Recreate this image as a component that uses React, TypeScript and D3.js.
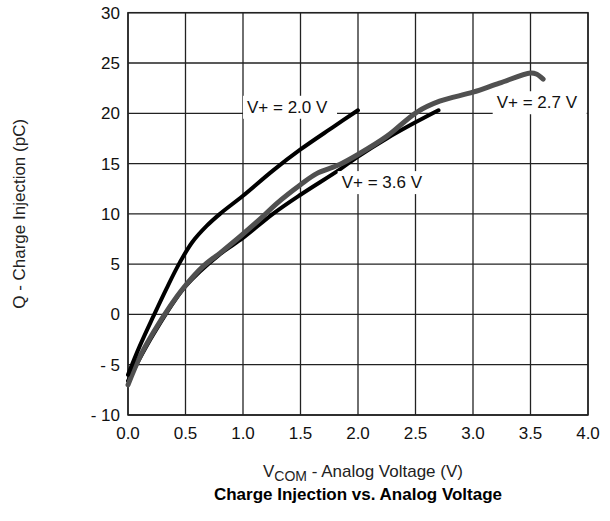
import React from 'react';
import * as d3 from 'd3';

// values
const xTicks = [0, 0.5, 1, 1.5, 2, 2.5, 3, 3.5, 4];
const yTicks = [-10, -5, 0, 5, 10, 15, 20, 25, 30];
const yTickLabels = ['- 10', '- 5', '0', '5', '10', '15', '20', '25', '30'];

const v20X = [0, 0.1, 0.22, 0.336, 0.452, 0.56, 0.684, 0.8, 1.0, 1.26, 1.5, 1.78, 2.0];
const v20Y = [-6.0, -3.2, -0.2, 2.6, 5.2, 7.2, 8.8, 10.0, 11.8, 14.3, 16.4, 18.6, 20.3];

const v36X = [0, 0.22, 0.5, 0.8, 1.0, 1.26, 1.5, 1.84, 2.0, 2.25, 2.5, 2.7];
const v36Y = [-6.6, -2.0, 2.8, 6.0, 7.6, 10.0, 11.9, 14.4, 15.7, 17.5, 19.1, 20.3];

const v27X = [0, 0.104, 0.22, 0.365, 0.48, 0.655, 0.8, 0.97, 1.15, 1.3, 1.5, 1.64, 1.84, 2.0, 2.25, 2.51, 2.71, 3.0, 3.23, 3.5, 3.55, 3.61];
const v27Y = [-7.0, -4.2, -1.8, 0.8, 2.6, 4.8, 6.1, 7.7, 9.5, 11.1, 12.9, 14.0, 14.9, 15.9, 17.7, 20.1, 21.2, 22.1, 23.0, 24.0, 23.9, 23.4];

const labelText = ['V+ = 2.0 V', 'V+ = 3.6 V', 'V+ = 2.7 V'];
const labelX = [1.035, 1.858, 3.206];
const labelY = [20.05, 12.56, 20.5];

const W = 610;
const H = 521;
const margin = { top: 12.7, right: 22, bottom: 106, left: 128 };
const font = 'Liberation Sans, Arial, Helvetica, sans-serif';

const App = () => {
    const x = d3.scaleLinear().domain([0, 4]).range([margin.left, W - margin.right]);
    const y = d3.scaleLinear().domain([-10, 30]).range([H - margin.bottom, margin.top]);

    const line = d3.line<[number, number]>()
        .x(d => x(d[0]))
        .y(d => y(d[1]))
        .curve(d3.curveCatmullRom.alpha(0.5));

    const series = [
        { xs: v36X, ys: v36Y, color: '#000', width: 4 },
        { xs: v27X, ys: v27Y, color: '#505050', width: 5 },
        { xs: v20X, ys: v20Y, color: '#000', width: 4 },
    ];

    const gridColor = '#222';

    return (
        <svg width={W} height={H} style={{ position: 'absolute', left: 0, top: 0, background: '#fff' }}
            fontFamily={font}>
            {/* grid */}
            {xTicks.map(t => (
                <line key={'gx' + t} x1={x(t)} x2={x(t)} y1={y(-10)} y2={y(30)}
                    stroke={gridColor} strokeWidth={1.3} />
            ))}
            {yTicks.map(t => (
                <line key={'gy' + t} x1={x(0)} x2={x(4)} y1={y(t)} y2={y(t)}
                    stroke={gridColor} strokeWidth={1.3} />
            ))}
            <rect x={x(0)} y={y(30)} width={x(4) - x(0)} height={y(-10) - y(30)}
                fill="none" stroke={gridColor} strokeWidth={1.5} />

            {/* curves */}
            {series.map((s, i) => (
                <path key={'s' + i}
                    d={line(s.xs.map((v, j) => [v, s.ys[j]] as [number, number])) || ''}
                    fill="none" stroke={s.color} strokeWidth={s.width}
                    strokeLinecap="round" strokeLinejoin="round" />
            ))}

            {/* curve labels with white boxes */}
            {labelText.map((t, i) => (
                <g key={'l' + i}>
                    <rect x={x(labelX[i]) - 4} y={y(labelY[i]) - 17} width={94} height={23} fill="#fff" />
                    <text x={x(labelX[i])} y={y(labelY[i])} fontSize={17} fill="#111">{t}</text>
                </g>
            ))}

            {/* tick labels */}
            {xTicks.map(t => (
                <text key={'tx' + t} x={x(t)} y={y(-10) + 24} fontSize={17} textAnchor="middle" fill="#111">
                    {t.toFixed(1)}
                </text>
            ))}
            {yTicks.map((t, i) => (
                <text key={'ty' + t} x={x(0) - 8} y={y(t) + 6} fontSize={17} textAnchor="end" fill="#111">
                    {yTickLabels[i]}
                </text>
            ))}

            {/* axis titles */}
            <text transform={`translate(25, ${(y(-10) + y(30)) / 2}) rotate(-90)`} textAnchor="middle"
                fontSize={17} fill="#222">Q - Charge Injection (pC)</text>
            <text x={x(2) + 5} y={477} textAnchor="middle" fontSize={17} fill="#222">
                V<tspan fontSize={14} dy={4}>COM</tspan><tspan dy={-4}> - Analog Voltage (V)</tspan>
            </text>
            <text x={x(2)} y={500} textAnchor="middle" fontSize={17} fontWeight="bold" fill="#000">
                Charge Injection vs. Analog Voltage
            </text>
        </svg>
    );
};

export default App;
